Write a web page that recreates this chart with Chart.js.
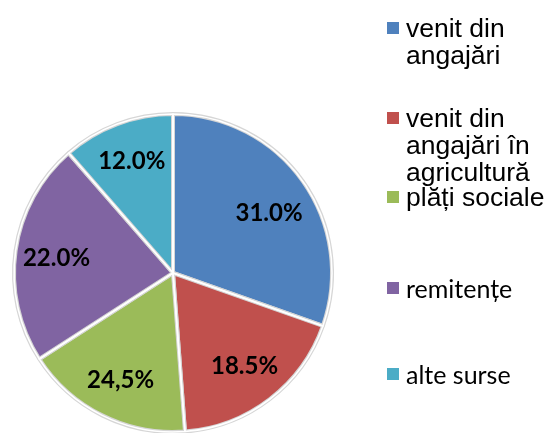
<!DOCTYPE html>
<html>
<head>
<meta charset="utf-8">
<script src="https://cdn.jsdelivr.net/npm/chart.js@4"></script>
<style>
  html, body { margin: 0; padding: 0; background: #fff; }
  #wrap { position: relative; width: 549px; height: 433px; overflow: hidden; }
  #pie { position: absolute; left: 0; top: 0; }
  .leg { position: absolute; left: 406px; line-height: 27px; color: #000; white-space: nowrap; }
  .leg .box { position: absolute; left: -19px; top: 7px; width: 12px; height: 12px; }
  .arial { font-family: "Liberation Sans", Arial, sans-serif; font-size: 26.5px; }
  .calibri { font-family: Lato, "Open Sans", sans-serif; font-size: 25px; }
</style>
</head>
<body>
<div id="wrap">
  <canvas id="pie" width="549" height="433"></canvas>
  <div id="legend"></div>
</div>
<script>
// categories (legend text, line breaks as in the original)
const categories = ["venit din\nangajări", "venit din\nangajări în\nagricultură", "plăți sociale", "remitențe", "alte surse"];
// slice sizes as drawn (share of the circle)
const shares = [30.4, 18.4, 17.1, 22.7, 11.4];
// printed data labels
const valueLabels = ["31.0%", "18.5%", "24,5%", "22.0%", "12.0%"];
const colors = ["#4F81BD", "#C0504D", "#9BBB59", "#8064A2", "#4BACC6"];

// layout tweaks: legend item tops, label nudges (px)
const legendTops = [15, 105, 184, 275, 361];
const legendFonts = ["arial", "arial", "arial", "calibri", "calibri"];
const labelNudgeY = [8, 0, 2, 2, -2];

const sliceLabels = {
  id: "sliceLabels",
  afterDatasetsDraw(chart) {
    const ctx = chart.ctx;
    const arcs = chart.getDatasetMeta(0).data;
    ctx.save();
    // white core of the separators
    ctx.strokeStyle = "#ffffff";
    ctx.lineWidth = 1.6;
    ctx.lineJoin = "round";
    arcs.forEach((arc) => {
      const p = arc.getProps(["x", "y", "startAngle", "endAngle", "outerRadius"], true);
      ctx.beginPath();
      ctx.moveTo(p.x, p.y);
      ctx.arc(p.x, p.y, p.outerRadius, p.startAngle, p.endAngle);
      ctx.closePath();
      ctx.stroke();
    });
    ctx.font = "bold 24px Lato, 'Open Sans', sans-serif";
    ctx.fillStyle = "#000";
    ctx.textAlign = "center";
    ctx.textBaseline = "middle";
    arcs.forEach((arc, i) => {
      const p = arc.getProps(["x", "y", "startAngle", "endAngle", "outerRadius"], true);
      const mid = (p.startAngle + p.endAngle) / 2;
      const r = p.outerRadius * 0.74;
      ctx.fillText(valueLabels[i], p.x + Math.cos(mid) * r, p.y + Math.sin(mid) * r + labelNudgeY[i]);
    });
    ctx.restore();
  }
};

new Chart(document.getElementById("pie"), {
  type: "pie",
  data: {
    labels: categories,
    datasets: [{
      data: shares,
      backgroundColor: colors,
      borderColor: "#d6d6d6",
      borderWidth: 4,
      hoverOffset: 0
    }]
  },
  options: {
    responsive: false,
    animation: false,
    radius: 159,
    layout: { padding: { left: 0, right: 203, top: 113, bottom: 0 } },
    plugins: {
      legend: { display: false },
      tooltip: { enabled: false }
    }
  },
  plugins: [sliceLabels]
});

// legend built from the same arrays
const legend = document.getElementById("legend");
categories.forEach((name, i) => {
  const item = document.createElement("div");
  item.className = "leg " + legendFonts[i];
  item.style.top = legendTops[i] + "px";
  item.innerHTML = '<span class="box" style="background:' + colors[i] + '"></span>' +
    name.split("\n").join("<br>");
  legend.appendChild(item);
});
</script>
</body>
</html>
